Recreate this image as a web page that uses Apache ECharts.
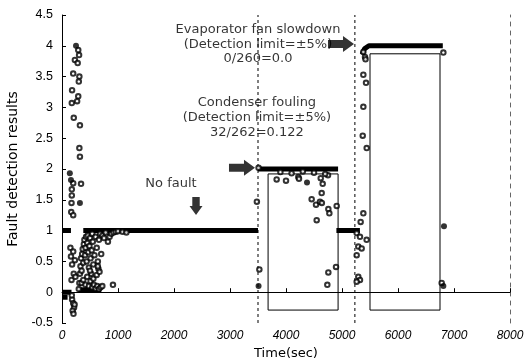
<!DOCTYPE html>
<html><head><meta charset="utf-8">
<script src="https://cdn.jsdelivr.net/npm/echarts@6/dist/echarts.min.js"></script>
<style>html,body{margin:0;padding:0;background:#fff}#c{width:529px;height:358px}</style>
</head><body><div id="c"></div>
<script>
// Axis ticks
var xTicks = [0,1000,2000,3000,4000,5000,6000,7000,8000];
var yTicks = [-0.5,0,0.5,1,1.5,2,2.5,3,3.5,4,4.5];

// Thick (dense) result segments [time, result]
var segZeroA = [[0,0],[170,0]];
var segZeroB = [[0,-0.08],[100,-0.08]];
var segOneStart = [[0,1],[160,1]];
var segZeroCluster = [[290,0.04],[700,0.04]];
var segNoFault = [[380,1],[3500,1]];
var segCondenser = [[3500,2],[4930,2]];
var segMid = [[4900,1],[5320,1]];
var segEvaporator = [[5360,3.86],[5400,3.95],[5480,4.0],[6800,4.0]];

// Fault period boxes
var boxCondenser = [[3680,-0.29],[3680,1.92],[4930,1.92],[4930,-0.29],[3680,-0.29]];
var boxEvaporator = [[5500,-0.29],[5500,3.87],[6750,3.87],[6750,-0.29],[5500,-0.29]];

// Fault onset lines
var onsetCondenser = [[3500,-0.5],[3500,4.5]];
var onsetEvaporator = [[5230,-0.5],[5230,4.5]];

// Scattered open-circle results
var openPts = [
 [290,3.93],[305,3.85],[230,3.77],[280,3.72],[200,3.55],[310,3.5],[300,3.42],[180,3.28],[290,3.18],[175,3.07],[270,3.1],
 [210,2.83],[320,2.71],[310,2.34],[320,2.2],[200,1.77],[340,1.76],[175,1.67],[175,1.57],[170,1.45],[165,1.3],[200,1.25],
 [150,0.72],[200,0.66],[160,0.58],[230,0.52],[180,0.45],[210,0.3],[170,0.2],[240,0.25],
 [180,-0.12],[200,-0.18],[215,-0.25],[190,-0.3],[205,-0.35],[175,-0.05],[225,-0.2],
 [300,0.05],[310,0.15],[320,0.3],[330,0.42],[340,0.55],[350,0.35],[360,0.62],[370,0.7],[380,0.48],[390,0.78],[400,0.85],
 [410,0.6],[420,0.72],[430,0.9],[440,0.5],[450,0.8],[460,0.92],[470,0.65],[480,0.4],[490,0.75],[500,0.88],[510,0.55],
 [520,0.3],[530,0.68],[540,0.95],[550,0.82],[560,0.45],[580,0.6],[600,0.9],[620,0.72],[640,0.5],[660,0.85],[680,0.95],
 [700,0.62],[720,0.92],[750,0.88],[780,0.97],[820,0.82],[850,0.9],[880,0.95],[920,0.97],[960,0.98],[1000,0.99],[1080,0.98],[1150,0.97],
 [350,0.15],[380,0.2],[420,0.12],[450,0.25],[480,0.1],[510,0.18],[540,0.08],[570,0.12],[600,0.06],[630,0.1],[660,0.05],
 [690,0.08],[720,0.1],[500,0.35],[560,0.22],[620,0.28],[650,0.38],[640,0.42],[670,0.33],[910,0.12],
 [3480,1.47],[3524,0.37],[3510,2.02],
 [3833,1.83],[4000,1.81],[4220,1.87],[4232,1.84],[4620,1.85],[4655,1.76],[4637,1.61],[4458,1.51],[4536,1.42],[4607,1.47],
 [4640,1.45],[4756,1.35],[4774,1.28],[4905,1.40],[4548,1.17],[4750,1.9],[3900,1.95],[4100,1.93],[4300,1.96],[4500,1.94],[4700,1.92],
 [4756,0.32],[4893,0.41],[4738,0.12],
 [5381,1.28],[5333,1.14],[5262,0.96],[5321,0.9],[5440,0.85],[5291,0.74],[5351,0.71],[5262,0.6],[5291,0.25],[5321,0.2],[5262,0.17],
 [5381,3.9],[5411,3.82],[5420,3.78],[5381,3.53],[5429,3.4],[5381,3.01],[5370,2.54],[5441,2.34],[6810,3.89],[6780,0.15]
];
// Filled-dot results
var filledPts = [[250,4.0],[140,1.93],[160,1.82],[320,1.45],[4375,1.78],[3510,0.1],[6821,1.07],[6810,0.1]];

// Arrows [time, result]
var arrowsRight = [[3214,2.02],[4982,4.03]];
var arrowsDown = [[2393,1.40]];

// Annotation texts
var annoText = ['Evaporator fan slowdown','(Detection limit=\u00b15%)','0/260=0.0',
                'Condenser fouling','(Detection limit=\u00b15%)','32/262=0.122','No fault'];
var annoX = [3500,3500,3500,3480,3480,3480,1946];
var annoY = [4.26,4.02,3.79,3.07,2.83,2.59,1.77];

var FONT = '"Liberation Sans", Arial, sans-serif';
var WIDE = '"DejaVu Sans", sans-serif';
var chart = echarts.init(document.getElementById('c'), null, {renderer:'canvas'});

function thick(d){return {type:'line',data:d,showSymbol:false,symbol:'none',silent:true,
  lineStyle:{color:'#000',width:5},z:4};}
function thin(d,dash){return {type:'line',data:d,showSymbol:false,symbol:'none',silent:true,
  lineStyle:{color:'#000',width:1,type:dash?[3,3]:'solid'},z:3};}

var annoData = annoText.map(function(t,i){return {name:t,value:[annoX[i],annoY[i]]};});

var option = {
  animation:false,
  backgroundColor:'#fff',
  grid:{left:62,right:19,top:15,bottom:35,containLabel:false,outerBoundsMode:'none'},
  xAxis:{type:'value',min:0,max:8000,interval:1000,
    name:'Time(sec)',nameLocation:'middle',nameGap:24,
    nameTextStyle:{fontFamily:WIDE,fontSize:13,color:'#000'},
    axisLine:{show:true,lineStyle:{color:'#000',width:1}},
    axisTick:{show:true,inside:true,length:4,lineStyle:{color:'#000'}},
    axisLabel:{fontFamily:FONT,fontSize:12,color:'#000',fontStyle:'italic',margin:7,
      formatter:function(v){return String(v);}},
    splitLine:{show:false}},
  yAxis:[{type:'value',min:-0.5,max:4.5,interval:0.5,
    name:'Fault detection results',nameLocation:'middle',nameGap:39,
    nameTextStyle:{fontFamily:WIDE,fontSize:14,color:'#000'},
    axisLine:{show:true,lineStyle:{color:'#000',width:1}},
    axisTick:{show:true,inside:true,length:4,lineStyle:{color:'#000'}},
    axisLabel:{fontFamily:FONT,fontSize:12.5,color:'#000',margin:9},
    splitLine:{show:false}},
   {type:'value',min:-0.5,max:4.5,interval:0.5,position:'right',
    axisLine:{show:true,lineStyle:{color:'#666',width:1,type:[4,5]}},
    axisTick:{show:false},axisLabel:{show:false},splitLine:{show:false}}],
  series:[
    thin(boxCondenser,false), thin(boxEvaporator,false),
    thin(onsetCondenser,true), thin(onsetEvaporator,true),
    thick(segZeroA), thick(segZeroB), thick(segOneStart), thick(segZeroCluster),
    thick(segNoFault), thick(segCondenser), thick(segMid), thick(segEvaporator),
    {type:'scatter',data:openPts,symbol:'emptyCircle',symbolSize:4.5,silent:true,z:5,
      itemStyle:{color:'#000',borderColor:'#000',borderWidth:0.8}},
    {type:'scatter',data:filledPts,symbol:'circle',symbolSize:6,silent:true,z:5,
      itemStyle:{color:'#000'}},
    {type:'scatter',data:arrowsRight,symbol:'path://M0,4 L15,4 L15,0 L26,8 L15,16 L15,12 L0,12 Z',
      symbolSize:[26,16],symbolKeepAspect:false,silent:true,z:6,itemStyle:{color:'#000'}},
    {type:'scatter',data:arrowsDown,symbol:'path://M3,0 L11,0 L11,9 L14,9 L7,18 L0,9 L3,9 Z',
      symbolSize:[13,18],symbolKeepAspect:false,silent:true,z:6,itemStyle:{color:'#000'}},
    {type:'scatter',data:annoData,symbolSize:0,silent:true,z:7,
      label:{show:true,position:'inside',formatter:function(p){return p.name;},
        fontFamily:WIDE,fontSize:13,color:'#000'}}
  ]
};
chart.setOption(option);
</script></body></html>
